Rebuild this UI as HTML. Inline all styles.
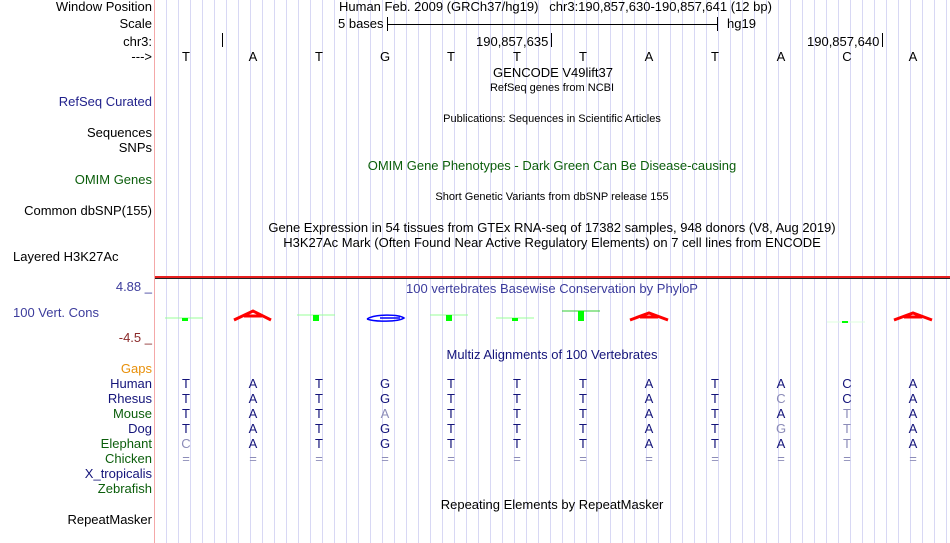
<!DOCTYPE html>
<html><head><meta charset="utf-8"><style>
body{margin:0;width:950px;height:543px;overflow:hidden;background:#fff;position:relative;font-family:"Liberation Sans",sans-serif;font-size:13px;color:#000}
.grid{position:absolute;left:155px;top:0;width:795px;height:543px;background:repeating-linear-gradient(to right,transparent 0,transparent 11px,#d8d8f4 11px,#d8d8f4 12px)}
.border{position:absolute;left:154px;top:0;width:1px;height:543px;background:#f4a8a8}
.t{position:absolute;white-space:nowrap;line-height:14px}
.r{position:absolute;right:798px;white-space:nowrap;line-height:14px;text-align:right}
.c{position:absolute;white-space:nowrap;line-height:14px;transform:translateX(-50%)}
.nv{color:#14147a}.gr{color:#0b5e0b}.mm{color:#8c8cb8}
.s{font-size:11px}
</style></head><body>
<div class="grid"></div>
<div class="border"></div>

<div class="r" style="top:0">Window Position</div>
<div class="r" style="top:17px">Scale</div>
<div class="r" style="top:35px">chr3:</div>
<div class="r" style="top:50px">---&gt;</div>
<div class="r nv" style="top:95px;color:#22228c">RefSeq Curated</div>
<div class="r" style="top:126px">Sequences</div>
<div class="r" style="top:141px">SNPs</div>
<div class="r gr" style="top:173px">OMIM Genes</div>
<div class="r" style="top:204px">Common dbSNP(155)</div>
<div class="t" style="top:250px;left:13px">Layered H3K27Ac</div>
<div class="r" style="top:280px;color:#3c3c9c">4.88 _</div>
<div class="t" style="top:306px;left:13px;color:#3c3c9c">100 Vert. Cons</div>
<div class="r" style="top:331px;color:#8b2a2a">-4.5 _</div>
<div class="r" style="top:362px;color:#e8900a">Gaps</div>
<div class="r nv" style="top:377px">Human</div>
<div class="r nv" style="top:392px">Rhesus</div>
<div class="r gr" style="top:407px">Mouse</div>
<div class="r nv" style="top:422px">Dog</div>
<div class="r gr" style="top:437px">Elephant</div>
<div class="r gr" style="top:452px">Chicken</div>
<div class="r nv" style="top:467px">X_tropicalis</div>
<div class="r gr" style="top:482px">Zebrafish</div>
<div class="r" style="top:513px">RepeatMasker</div>

<div class="t" style="top:0;left:339px">Human Feb. 2009 (GRCh37/hg19) &nbsp; chr3:190,857,630-190,857,641 (12 bp)</div>
<div class="t" style="top:17px;left:338px">5 bases</div>
<div class="t" style="top:17px;left:727px">hg19</div>
<div style="position:absolute;left:387px;top:17px;width:1px;height:14px;background:#000"></div>
<div style="position:absolute;left:717px;top:17px;width:1px;height:14px;background:#000"></div>
<div style="position:absolute;left:387px;top:24px;width:330px;height:1px;background:#000"></div>
<div style="position:absolute;left:222px;top:33px;width:1px;height:14px;background:#000"></div>
<div style="position:absolute;left:551px;top:33px;width:1px;height:14px;background:#000"></div>
<div style="position:absolute;left:882px;top:33px;width:1px;height:14px;background:#000"></div>
<div class="t" style="top:35px;left:476px">190,857,635</div>
<div class="t" style="top:35px;left:807px">190,857,640</div>

<div class="c" style="top:66px;left:553px">GENCODE V49lift37</div>
<div class="c s" style="top:81px;left:552px">RefSeq genes from NCBI</div>
<div class="c s" style="top:112px;left:552px">Publications: Sequences in Scientific Articles</div>
<div class="c gr" style="top:159px;left:552px">OMIM Gene Phenotypes - Dark Green Can Be Disease-causing</div>
<div class="c s" style="top:190px;left:552px">Short Genetic Variants from dbSNP release 155</div>
<div class="c" style="top:221px;left:552px">Gene Expression in 54 tissues from GTEx RNA-seq of 17382 samples, 948 donors (V8, Aug 2019)</div>
<div class="c" style="top:236px;left:552px">H3K27Ac Mark (Often Found Near Active Regulatory Elements) on 7 cell lines from ENCODE</div>
<div style="position:absolute;left:155px;top:276px;width:795px;height:2px;background:#e82020"></div>
<div style="position:absolute;left:155px;top:278px;width:795px;height:1px;background:#222"></div>
<div class="c" style="top:282px;left:552px;color:#3c3c9c">100 vertebrates Basewise Conservation by PhyloP</div>
<div class="c nv" style="top:348px;left:552px">Multiz Alignments of 100 Vertebrates</div>
<div class="c" style="top:498px;left:552px">Repeating Elements by RepeatMasker</div>

<svg style="position:absolute;left:0;top:0" width="950" height="543">
<g stroke="#9f9" stroke-width="1">
<line x1="165" y1="318" x2="203" y2="318"/><line x1="297" y1="315" x2="335" y2="315"/><line x1="430" y1="315" x2="468" y2="315"/><line x1="496" y1="318" x2="534" y2="318"/>
<line x1="562" y1="311" x2="600" y2="311" stroke="#3c3"/><line x1="827" y1="322" x2="865" y2="322" stroke="#dfd"/>
</g>
<g fill="#0f0">
<rect x="182" y="318" width="6" height="3"/><rect x="313" y="315" width="6" height="6"/><rect x="446" y="315" width="6" height="6"/><rect x="512" y="318" width="6" height="3"/><rect x="578" y="311" width="6" height="10"/><rect x="842" y="321" width="6" height="2"/>
</g>
<g fill="none" stroke="#f00" stroke-width="3">
<path d="M234 320 L253 311 L271 320 M244 316 L262 316"/>
<path d="M630 320 L649 313 L668 320 M640 317 L658 317"/>
<path d="M894 320 L913 313 L932 320 M904 317 L922 317"/>
</g>
<g fill="none" stroke="#00f" stroke-width="1.5">
<path d="M367 319 C375 314 398 314 404 318 C398 322 375 322 367 319"/>
<path d="M380 318 L400 318"/>
</g>
</svg>

<div id="rows"></div>
<script>
var xs=[186,253,319,385,451,517,583,649,715,781,847,913];
var ref="TATGTTTATACA";
var html="";
for(var i=0;i<12;i++)html+='<div class="c" style="top:50px;left:'+xs[i]+'px">'+ref[i]+'</div>';
var rows=[["TATGTTTATACA","............"],["TATGTTTATCCA",".........x.."],["TATATTTATATA","...x......x."],["TATGTTTATGTA",".........xx."],["CATGTTTATATA","x.........x."],["============","xxxxxxxxxxxx"]];
for(var r=0;r<rows.length;r++){for(var i=0;i<12;i++){var m=rows[r][1][i]=="x";html+='<div class="c '+(m?'mm':'nv')+'" style="top:'+(377+15*r)+'px;left:'+xs[i]+'px">'+rows[r][0][i]+'</div>';}}
document.getElementById("rows").outerHTML=html;
</script>
</body></html>
